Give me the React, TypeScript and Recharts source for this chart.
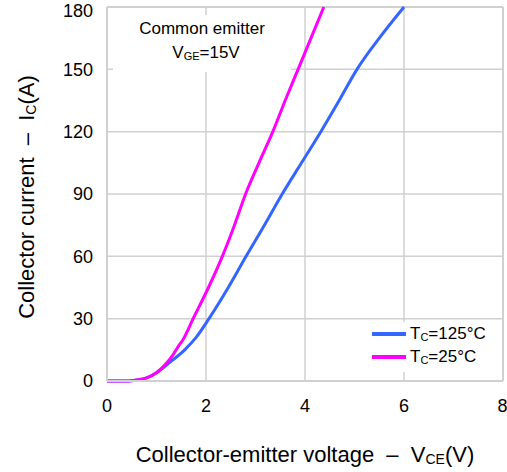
import React from 'react';
import { LineChart, Line, XAxis, YAxis, CartesianGrid, Legend, ReferenceLine } from 'recharts';

const vce125 = [0, 0.4, 0.6, 0.8, 1.0, 1.27, 1.57, 1.8, 2.06, 2.45, 2.81, 3.18, 3.54, 3.93, 4.32, 4.69, 5.05, 5.5, 6.0];
const ic125 = [0, 0, 0.5, 1.5, 4, 9, 15, 21, 30, 45, 60, 75, 90, 105, 120, 135, 150, 165, 180];

const vce25 = [0, 0.4, 0.6, 0.8, 1.0, 1.2, 1.33, 1.45, 1.55, 1.74, 2.05, 2.33, 2.56, 2.8, 3.07, 3.35, 3.6, 3.86, 4.12, 4.38];
const ic25 = [0, 0, 0.5, 1.5, 4, 8.5, 12.5, 17, 20.5, 30, 45, 60, 74, 90, 105, 120, 135, 150, 165, 180];

const xTicks = [0, 2, 4, 6, 8];
const yTicks = [0, 30, 60, 90, 120, 150, 180];

const series125 = vce125.map((v, i) => ({ vce: v, ic: ic125[i] }));
const series25 = vce25.map((v, i) => ({ vce: v, ic: ic25[i] }));

const FONT = '"Liberation Sans", Arial, sans-serif';
const GRID = '#d0d0d0';

const LegendBox = ({ payload }: any) => (
  <div style={{ background: '#fff', width: 135, height: 50, fontFamily: FONT, fontSize: 17, color: '#000' }}>
    {(payload || []).map((p: any) => (
      <div key={p.value} style={{ display: 'flex', alignItems: 'center', height: 23, paddingLeft: 7 }}>
        <span style={{ display: 'inline-block', width: 34, height: 4, background: p.color, marginRight: 4 }} />
        <span>T<sub style={{ fontSize: 11, verticalAlign: -2 }}>C</sub>={p.value}</span>
      </div>
    ))}
  </div>
);

export default function App() {
  return (
    <div style={{ position: 'absolute', left: 0, top: 0, width: 507, height: 472, background: '#fff' }}>
      <LineChart width={507} height={472} margin={{ top: 7, right: 4, bottom: 61, left: 47 }}>
        <CartesianGrid stroke={GRID} strokeWidth={1.5} />
        <ReferenceLine y={180} stroke={GRID} strokeWidth={2} />
        <ReferenceLine x={8} stroke={GRID} strokeWidth={2} />
        <XAxis
          type="number"
          dataKey="vce"
          domain={[0, 8]}
          ticks={xTicks}
          tickLine={false}
          axisLine={{ stroke: GRID, strokeWidth: 2 }}
          tick={{ fill: '#000', fontSize: 18, fontFamily: FONT }}
          tickMargin={12}
          height={30}
        />
        <YAxis
          type="number"
          dataKey="ic"
          domain={[0, 180]}
          ticks={yTicks}
          tickLine={false}
          axisLine={{ stroke: GRID, strokeWidth: 2 }}
          tick={{ fill: '#000', fontSize: 18, fontFamily: FONT }}
          tickMargin={8}
          width={60}
        />
        <Legend
          verticalAlign="middle"
          align="center"
          layout="vertical"
          content={<LegendBox />}
          wrapperStyle={{ position: 'absolute', left: 365, top: 322, width: 135, height: 50 }}
        />
        <Line data={series125} dataKey="ic" name="125°C" type="monotone" stroke="#3366ff" strokeWidth={3} dot={false} isAnimationActive={false} />
        <Line data={series25} dataKey="ic" name="25°C" type="monotone" stroke="#ff00ff" strokeWidth={3} dot={false} isAnimationActive={false} />
      </LineChart>

      {/* annotation */}
      <div style={{ position: 'absolute', left: 113, top: 15, width: 178, height: 55, background: '#fff', fontFamily: FONT, fontSize: 17, textAlign: 'center', lineHeight: '24px', paddingTop: 2 }}>
        <div>Common emitter</div>
        <div style={{ paddingLeft: 8 }}>V<sub style={{ fontSize: 11, verticalAlign: -2 }}>GE</sub>=15V</div>
      </div>

      {/* y title */}
      <div style={{ position: 'absolute', left: 27, top: 197, width: 0, height: 0 }}>
        <div style={{ position: 'absolute', transform: 'translate(-50%, -50%) rotate(-90deg)', whiteSpace: 'nowrap', fontFamily: FONT, fontSize: 22 }}>
          Collector current &nbsp;–&nbsp; I<sub style={{ fontSize: 14, verticalAlign: -2 }}>C</sub>(A)
        </div>
      </div>

      {/* x title */}
      <div style={{ position: 'absolute', left: 305, top: 455, width: 0, height: 0 }}>
        <div style={{ position: 'absolute', transform: 'translate(-50%, -50%)', whiteSpace: 'nowrap', fontFamily: FONT, fontSize: 22 }}>
          Collector-emitter voltage &nbsp;–&nbsp; V<sub style={{ fontSize: 14, verticalAlign: -2 }}>CE</sub>(V)
        </div>
      </div>
    </div>
  );
}
